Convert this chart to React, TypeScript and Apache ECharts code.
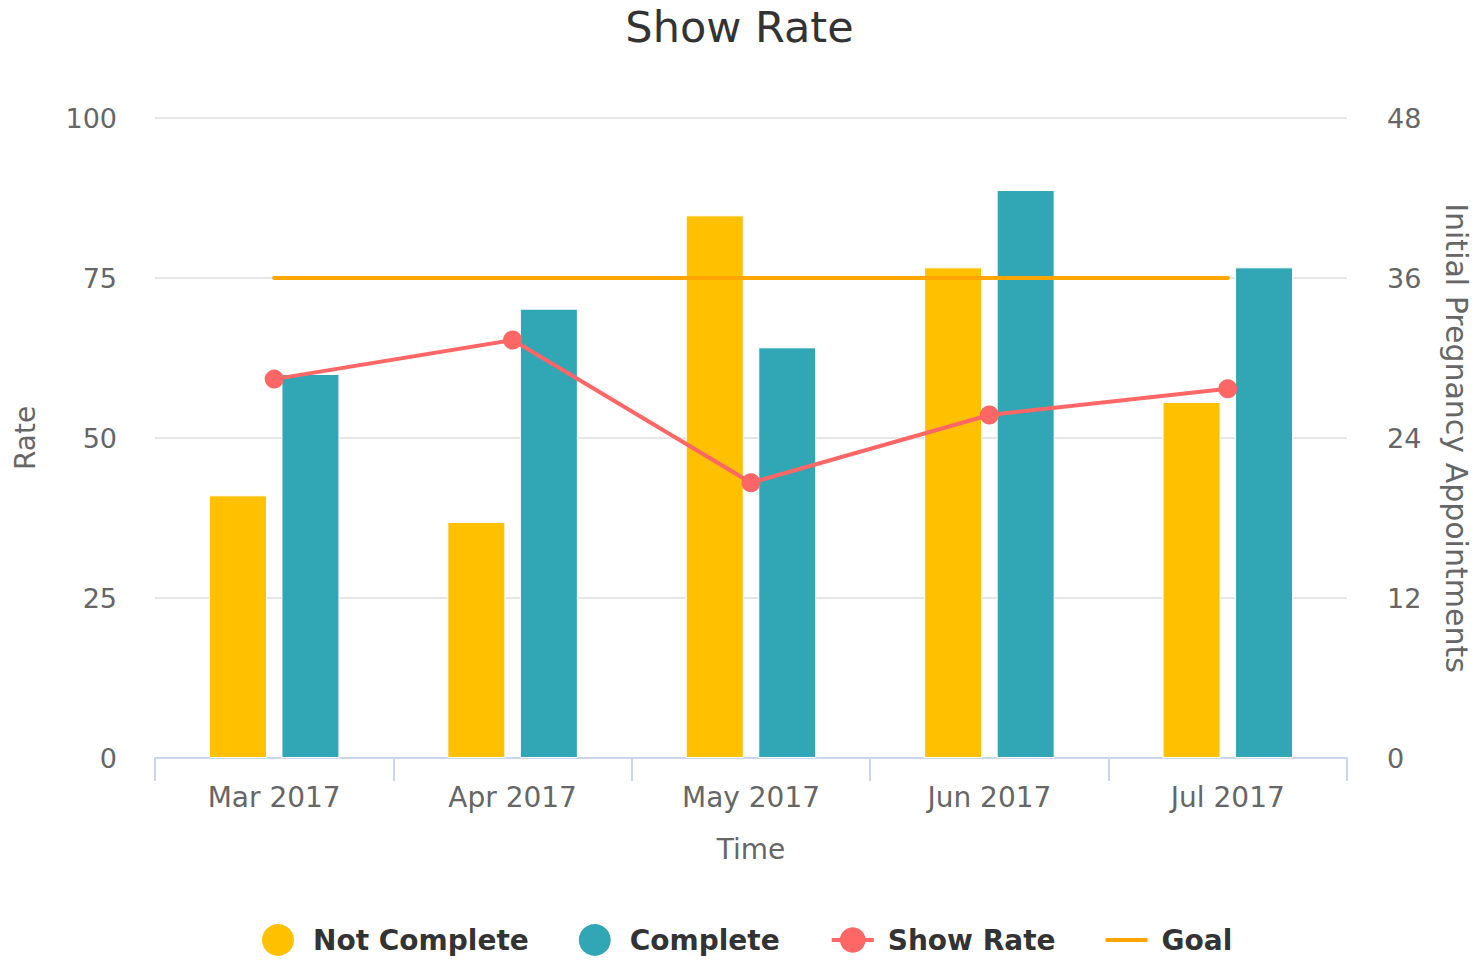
import { useEffect, useRef } from "react";
import * as echarts from "echarts";

const categories = ["Mar 2017", "Apr 2017", "May 2017", "Jun 2017", "Jul 2017"];
const notComplete = [19.7, 17.7, 40.7, 36.8, 26.7];
const complete = [28.8, 33.7, 30.8, 42.6, 36.8];
const showRate = [59.2, 65.3, 43.0, 53.6, 57.7];
const goal = [75, 75, 75, 75, 75];

const rateMin = 0;
const rateMax = 100;
const rateStep = 25;
const apptMin = 0;
const apptMax = 48;
const apptStep = 12;

const FONT = "DejaVu Sans";

export default function App() {
  const ref = useRef<HTMLDivElement>(null);

  useEffect(() => {
    if (!ref.current) return;
    const chart = echarts.init(ref.current, undefined, { renderer: "svg" });
    chart.setOption({
      animation: false,
      backgroundColor: "#ffffff",
      textStyle: { fontFamily: FONT },
      title: {
        text: "Show Rate",
        left: "center",
        top: 0,
        textStyle: { fontFamily: FONT, fontSize: 43, fontWeight: "normal", color: "#333333" },
      },
      grid: { left: 155, right: 132, top: 118, bottom: 203, containLabel: false },
      legend: {
        top: 924,
        left: 262,
        itemWidth: 42,
        itemHeight: 32,
        itemGap: 50,
        padding: 0,
        textStyle: {
          fontFamily: FONT,
          fontSize: 28,
          fontWeight: "bold",
          color: "#333333",
          padding: [0, 0, 0, 9],
        },
        lineStyle: { width: 4 },
        itemStyle: { borderWidth: 0 },
        data: [
          { name: "Not Complete", icon: "circle" },
          { name: "Complete", icon: "circle" },
          { name: "Show Rate" },
          { name: "Goal", icon: "path://M0,0 L42,0 L42,4 L0,4 Z" },
        ],
      },
      xAxis: {
        type: "category",
        data: categories,
        boundaryGap: true,
        name: "Time",
        nameLocation: "middle",
        nameGap: 77,
        nameTextStyle: { fontFamily: FONT, fontSize: 28, color: "#666666" },
        axisLine: { show: true, lineStyle: { color: "#ccd6eb", width: 2 } },
        axisTick: { show: true, interval: 0, length: 23, lineStyle: { color: "#ccd6eb", width: 2 } },
        axisLabel: { fontFamily: FONT, fontSize: 28, color: "#666666", margin: 25, interval: 0 },
        splitLine: { show: false },
      },
      yAxis: [
        {
          type: "value",
          min: rateMin,
          max: rateMax,
          interval: rateStep,
          name: "Rate",
          nameLocation: "middle",
          nameGap: 116,
          nameTextStyle: { fontFamily: FONT, fontSize: 28, color: "#666666" },
          axisLine: { show: false },
          axisTick: { show: false },
          axisLabel: { fontFamily: FONT, fontSize: 27, color: "#666666", margin: 38 },
          splitLine: { show: true, lineStyle: { color: "#e6e6e6", width: 2 } },
        },
        {
          type: "value",
          min: apptMin,
          max: apptMax,
          interval: apptStep,
          position: "right",
          name: "Initial Pregnancy Appointments",
          nameLocation: "middle",
          nameRotate: -90,
          nameGap: 94,
          nameTextStyle: { fontFamily: FONT, fontSize: 30, color: "#666666" },
          axisLine: { show: false },
          axisTick: { show: false },
          axisLabel: { fontFamily: FONT, fontSize: 27, color: "#666666", margin: 40 },
          splitLine: { show: false },
        },
      ],
      series: [
        {
          name: "Not Complete",
          type: "bar",
          yAxisIndex: 1,
          data: notComplete,
          barWidth: 58,
          barGap: "25%",
          itemStyle: { color: "#FFC000", borderColor: "#ffffff", borderWidth: 1 },
          z: 2,
        },
        {
          name: "Complete",
          type: "bar",
          yAxisIndex: 1,
          data: complete,
          barWidth: 58,
          barGap: "25%",
          itemStyle: { color: "#31A6B5", borderColor: "#ffffff", borderWidth: 1 },
          z: 2,
        },
        {
          name: "Show Rate",
          type: "line",
          yAxisIndex: 0,
          data: showRate,
          symbol: "circle",
          symbolSize: 19,
          lineStyle: { color: "#FF6666", width: 4 },
          itemStyle: { color: "#FF6666" },
          z: 4,
        },
        {
          name: "Goal",
          type: "line",
          yAxisIndex: 0,
          data: goal,
          symbol: "none",
          showSymbol: false,
          lineStyle: { color: "#FFA500", width: 4, cap: "round" },
          itemStyle: { color: "#FFA500" },
          z: 3,
        },
      ],
    });
    return () => chart.dispose();
  }, []);

  return (
    <div
      ref={ref}
      style={{ position: "fixed", left: 0, top: 0, width: 1479, height: 961, background: "#fff" }}
    />
  );
}
